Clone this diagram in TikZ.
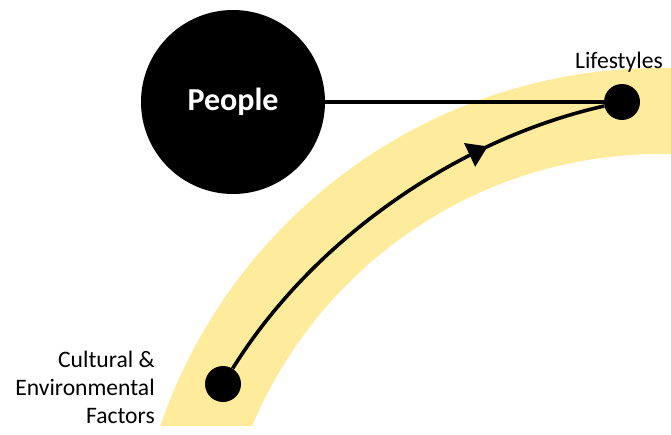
\documentclass[tikz,border=0pt]{standalone}
\usepackage{fontspec}
\setmainfont{Carlito}
\usetikzlibrary{arrows.meta,decorations.markings}
\definecolor{bandyellow}{HTML}{FFEB9C}
\begin{document}
\begin{tikzpicture}[x=0.75pt,y=-0.75pt,
  dot/.style={circle,fill=black,inner sep=0pt,minimum size=27pt},
  lbl/.style={font=\fontsize{17.7}{21}\selectfont, inner sep=0pt},
  link/.style={line width=2.7pt}]
\useasboundingbox (0,0) rectangle (671,435);
\begin{scope}
\clip (0,0) rectangle (671,425);
\draw[bandyellow, line width=64.5pt] (661,597) circle[radius=364.5pt];
\end{scope}
\node[circle,fill=black,minimum size=138pt,inner sep=0pt,text=white,font=\fontsize{24}{28}\selectfont\bfseries] (people) at (233,102) {People};
\node[dot] (life) at (622,102) {};
\node[dot] (cult) at (223,384) {};
\node[lbl, anchor=base east] (lifelabel) at (663,69) {Lifestyles};
\node[lbl, anchor=base east, align=right] (cultlabel) at (155,423) {Cultural \&\\Environmental\\Factors};
\draw[link] (people) -- (life);
\draw[link, postaction={decorate,decoration={markings,mark=at position 0.735 with {\arrow{Triangle[length=15pt,width=19pt]}}}}] (cult) .. controls (312.7,239.9) and (456.5,139.3) .. (life);
\end{tikzpicture}
\end{document}
